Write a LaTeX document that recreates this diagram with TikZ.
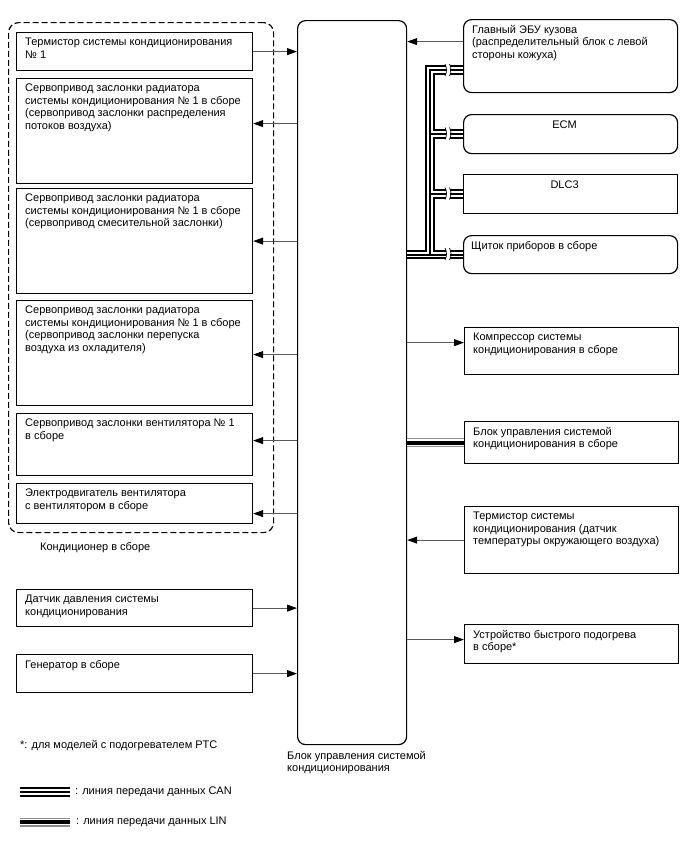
\documentclass[tikz,border=0pt]{standalone}
\usepackage{fontspec}
\setmainfont{Liberation Sans}
\usetikzlibrary{arrows.meta}

\newcommand{\boxfont}{\fontsize{11}{12.5}\selectfont}

\begin{document}
\begin{tikzpicture}[x=1pt, y=-1pt,
  blk/.style={draw, line width=1.2pt, anchor=north west, inner sep=0pt},
  lbox/.style={blk, minimum width=236pt},
  rbox/.style={blk, minimum width=214pt},
  txt/.style={anchor=north west, align=left, inner sep=0pt, font=\boxfont, xshift=9pt, yshift=-6pt},
  lbl/.style={align=left, inner sep=0pt, font=\boxfont},
  arr/.style={-{Triangle[length=10pt,width=7pt,black]}, line width=0.9pt, black!65},
]
\useasboundingbox (0,0) rectangle (688,852);

% === Conditioner assembly (left, dashed) ===
\node[draw, line width=1.2pt, dash pattern=on 6pt off 3pt, rounded corners=10pt, anchor=north west,
  minimum width=265pt, minimum height=510pt] (kond) at (8,22) {};
\node[lbl, anchor=north west] (kondt) at (40,542) {Кондиционер в сборе};

\node[lbox, minimum height=38pt] (ter1) at (16,32) {};
\node[txt] (ter1t) at (ter1.north west) {Термистор системы кондиционирования\\№ 1};

\node[lbox, minimum height=105pt] (srv1) at (16,78) {};
\node[txt] (srv1t) at (srv1.north west) {Сервопривод заслонки радиатора\\системы кондиционирования № 1 в сборе\\(сервопривод заслонки распределения\\потоков воздуха)};

\node[lbox, minimum height=105pt] (srv2) at (16,188) {};
\node[txt] (srv2t) at (srv2.north west) {Сервопривод заслонки радиатора\\системы кондиционирования № 1 в сборе\\(сервопривод смесительной заслонки)};

\node[lbox, minimum height=105pt] (srv3) at (16,300) {};
\node[txt] (srv3t) at (srv3.north west) {Сервопривод заслонки радиатора\\системы кондиционирования № 1 в сборе\\(сервопривод заслонки перепуска\\воздуха из охладителя)};

\node[lbox, minimum height=62pt] (srv4) at (16,413) {};
\node[txt] (srv4t) at (srv4.north west) {Сервопривод заслонки вентилятора № 1\\в сборе};

\node[lbox, minimum height=40pt] (fan) at (16,483) {};
\node[txt] (fant) at (fan.north west) {Электродвигатель вентилятора\\с вентилятором в сборе};

% === Other inputs ===
\node[lbox, minimum height=37pt] (prs) at (16,589) {};
\node[txt] (prst) at (prs.north west) {Датчик давления системы\\кондиционирования};

\node[lbox, minimum height=38pt] (gen) at (16,654) {};
\node[txt] (gent) at (gen.north west) {Генератор в сборе};

% === A/C amplifier ===
\node[blk, rounded corners=8pt, minimum width=109pt, minimum height=724pt] (acu) at (297,20) {};
\node[lbl, anchor=north west] (acut) at (287,751) {Блок управления системой\\кондиционирования};

% === Right side ===
\node[rbox, rounded corners=8pt, minimum height=73pt] (gbu) at (463,19) {};
\node[txt] (gbut) at (gbu.north west) {Главный ЭБУ кузова\\(распределительный блок с левой\\стороны кожуха)};

\node[rbox, rounded corners=8pt, minimum height=39pt] (ecm) at (463,114) {};
\node[lbl, anchor=north, xshift=-6pt, yshift=-7pt] (ecmt) at (ecm.north) {ECM};

\node[rbox, minimum height=39pt] (dlc) at (463,174) {};
\node[lbl, anchor=north, xshift=-6pt, yshift=-7pt] (dlct) at (dlc.north) {DLC3};

\node[rbox, rounded corners=8pt, minimum height=38pt] (ins) at (463,235) {};
\node[txt, xshift=-1pt] (inst) at (ins.north west) {Щиток приборов в сборе};

\node[rbox, minimum height=47pt] (cmp) at (464,327) {};
\node[txt] (cmpt) at (cmp.north west) {Компрессор системы\\кондиционирования в сборе};

\node[rbox, minimum height=42pt] (acp) at (464,421) {};
\node[txt] (acpt) at (acp.north west) {Блок управления системой\\кондиционирования в сборе};

\node[rbox, minimum height=67pt] (amb) at (464,506) {};
\node[txt] (ambt) at (amb.north west) {Термистор системы\\кондиционирования (датчик\\температуры окружающего воздуха)};

\node[rbox, minimum height=39pt] (htr) at (464,624) {};
\node[txt] (htrt) at (htr.north west) {Устройство быстрого подогрева\\в сборе*};

% === Signal lines ===
\draw[arr] (ter1.east) -- (ter1.east -| acu.west);
\draw[arr] ([yshift=7.5pt]srv1.east -| acu.west) -- ([yshift=7.5pt]srv1.east);
\draw[arr] (srv2.east -| acu.west) -- (srv2.east);
\draw[arr] ([yshift=-1.5pt]srv3.east -| acu.west) -- ([yshift=-1.5pt]srv3.east);
\draw[arr] ([yshift=4pt]srv4.east -| acu.west) -- ([yshift=4pt]srv4.east);
\draw[arr] ([yshift=-10pt]fan.east -| acu.west) -- ([yshift=-10pt]fan.east);
\draw[arr] (prs.east) -- (prs.east -| acu.west);
\draw[arr] (gen.east) -- (gen.east -| acu.west);

\draw[arr] ([yshift=14.5pt]gbu.west) -- ([yshift=14.5pt]gbu.west -| acu.east);
\draw[arr] ([yshift=8.5pt]cmp.west -| acu.east) -- ([yshift=8.5pt]cmp.west);
\draw[arr] (amb.west) -- (amb.west -| acu.east);
\draw[arr] ([yshift=4.5pt]htr.west -| acu.east) -- ([yshift=4.5pt]htr.west);

% === CAN bus ===
\coordinate (ttop) at (430,70);
\coordinate (tbot) at (430,254);
\foreach \w/\c in {9.5/black, 5.5/white, 1.8/black}
  \draw[line width=\w pt, \c] (ins.west -| acu.east) -- (ins.west)
    (tbot) -- (ttop) -- (ttop -| gbu.west)
    (ttop |- ecm.west) -- (ecm.west)
    (ttop |- dlc.west) -- (dlc.west);
\foreach \yy in {70,133.5,193.5,254} {
  \fill[white] (446,\yy-6) rectangle (450,\yy+6);
  \draw[line width=0.7pt] (445,\yy-6) .. controls (447,\yy-2) and (447,\yy+2) .. (445,\yy+6)
    (449.5,\yy-6) .. controls (451.5,\yy-2) and (451.5,\yy+2) .. (449.5,\yy+6);
}

% === LIN bus ===
\foreach \w/\c in {9/black!45, 6.5/white, 4/black}
  \draw[line width=\w pt, \c] (acp.west -| acu.east) -- (acp.west);

% === Legend ===
\node[lbl, anchor=west] (note) at (20,746) {*: для моделей с подогревателем PTC};
\coordinate (cana) at (20,792);
\coordinate (canb) at (70,792);
\coordinate (lina) at (20,822);
\coordinate (linb) at (70,822);
\foreach \w/\c in {9.5/black, 5.5/white, 1.8/black}
  \draw[line width=\w pt, \c] (cana) -- (canb);
\foreach \w/\c in {9/black!45, 6.5/white, 4/black}
  \draw[line width=\w pt, \c] (lina) -- (linb);
\node[lbl, anchor=west] (cant) at (75,792) {: линия передачи данных CAN};
\node[lbl, anchor=west] (lint) at (76,822) {: линия передачи данных LIN};

\end{tikzpicture}
\end{document}
